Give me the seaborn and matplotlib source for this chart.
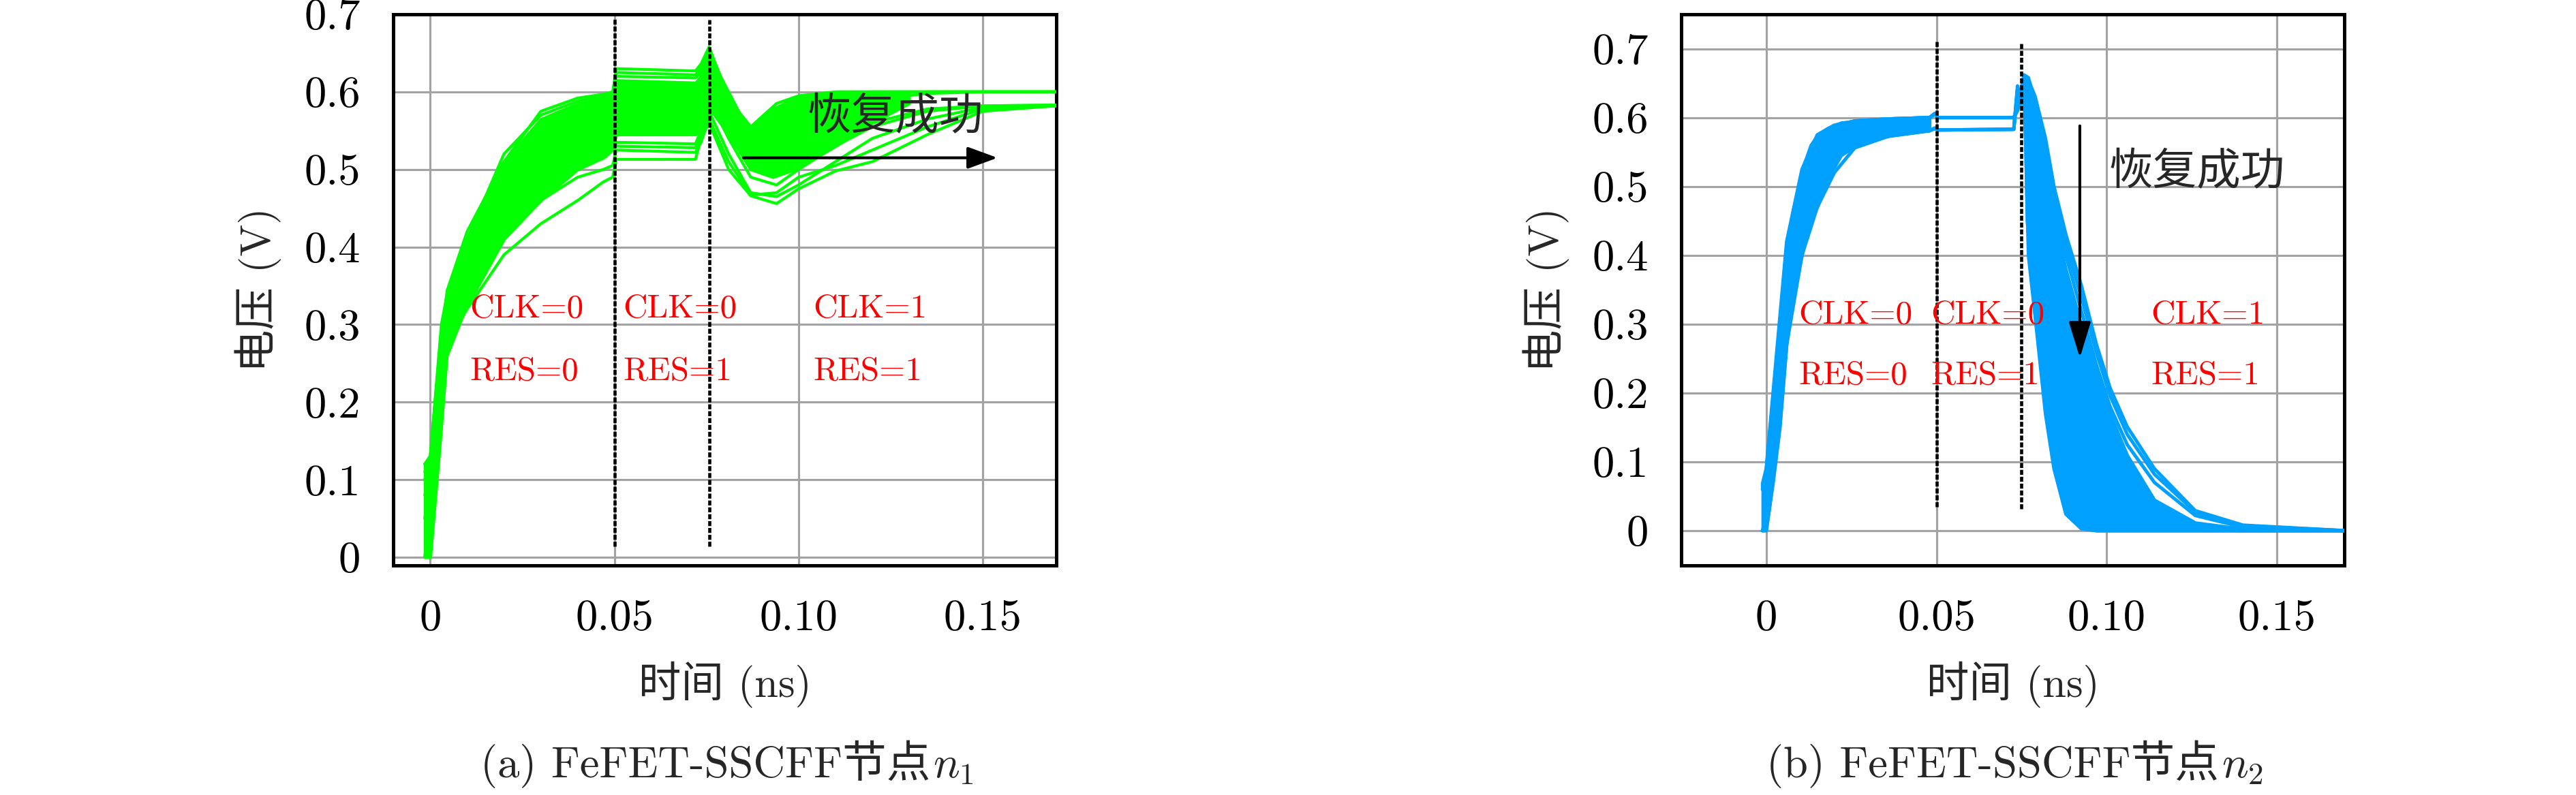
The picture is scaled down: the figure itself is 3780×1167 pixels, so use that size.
import numpy as np
import pandas as pd
import seaborn as sns
import matplotlib.pyplot as plt
from matplotlib.ticker import MultipleLocator

# ---------------- panel (a): node n1 ----------------
# dense core of the Monte-Carlo band (time in ns, voltage in V)
n1_band_t = [-0.0015, -0.0003, 0.0, 0.0025, 0.0045, 0.0095, 0.02, 0.03, 0.04, 0.047, 0.0495,
             0.0505, 0.072, 0.0735, 0.0756, 0.081, 0.087, 0.093, 0.099, 0.11, 0.12, 0.13]
n1_band_hi = [0.12, 0.13, 0.13, 0.27, 0.345, 0.40, 0.51, 0.565, 0.585, 0.593, 0.597,
              0.615, 0.612, 0.62, 0.652, 0.59, 0.555, 0.578, 0.592, 0.60, 0.60, 0.60]
n1_band_lo = [0.0, 0.0, 0.0, 0.14, 0.26, 0.32, 0.41, 0.46, 0.50, 0.515, 0.525,
              0.545, 0.545, 0.552, 0.58, 0.545, 0.50, 0.49, 0.50, 0.53, 0.56, 0.585]

# single runs that stick out of the band
n1_t = [-0.0015, 0.0, 0.003, 0.005, 0.01, 0.02, 0.03, 0.04, 0.047, 0.0495, 0.0505, 0.072,
        0.0735, 0.0757, 0.081, 0.087, 0.094, 0.1, 0.11, 0.12, 0.135, 0.15, 0.17]
n1_r1 = [0.12, 0.13, 0.30, 0.35, 0.42, 0.51, 0.575, 0.592, 0.597, 0.60, 0.63, 0.627,
         0.636, 0.658, 0.59, 0.555, 0.585, 0.595, 0.60, 0.60, 0.60, 0.60, 0.60]
n1_r2 = [0.0, 0.06, 0.20, 0.28, 0.32, 0.39, 0.43, 0.46, 0.484, 0.49, 0.513, 0.513,
         0.54, 0.56, 0.50, 0.466, 0.456, 0.475, 0.498, 0.51, 0.545, 0.575, 0.582]
n1_r3 = [0.10, 0.12, 0.27, 0.33, 0.37, 0.44, 0.49, 0.53, 0.55, 0.555, 0.53, 0.528,
         0.545, 0.575, 0.52, 0.47, 0.465, 0.48, 0.51, 0.54, 0.565, 0.58, 0.582]
n1_r4 = [0.11, 0.125, 0.28, 0.34, 0.40, 0.50, 0.55, 0.575, 0.585, 0.59, 0.62, 0.618,
         0.625, 0.648, 0.60, 0.545, 0.56, 0.585, 0.598, 0.60, 0.60, 0.60, 0.60]
n1_r5 = [0.05, 0.10, 0.25, 0.30, 0.35, 0.43, 0.47, 0.50, 0.52, 0.525, 0.535, 0.533,
         0.55, 0.59, 0.54, 0.49, 0.48, 0.50, 0.53, 0.555, 0.575, 0.582, 0.583]
n1_r6 = [0.12, 0.13, 0.29, 0.345, 0.41, 0.52, 0.57, 0.588, 0.595, 0.598, 0.61, 0.608,
         0.62, 0.652, 0.58, 0.53, 0.54, 0.57, 0.59, 0.598, 0.60, 0.60, 0.60]
n1_r7 = [0.08, 0.11, 0.26, 0.32, 0.38, 0.47, 0.52, 0.55, 0.565, 0.57, 0.545, 0.545,
         0.56, 0.60, 0.55, 0.50, 0.495, 0.51, 0.54, 0.56, 0.578, 0.582, 0.583]
n1_r8 = [0.10, 0.12, 0.28, 0.33, 0.39, 0.49, 0.54, 0.565, 0.58, 0.585, 0.60, 0.598,
         0.61, 0.64, 0.57, 0.51, 0.50, 0.53, 0.57, 0.59, 0.598, 0.60, 0.60]
n1_r9 = [0.0, 0.05, 0.21, 0.29, 0.34, 0.42, 0.46, 0.49, 0.50, 0.505, 0.525, 0.522,
         0.535, 0.565, 0.51, 0.467, 0.47, 0.49, 0.505, 0.525, 0.555, 0.578, 0.582]
n1_r10 = [0.12, 0.13, 0.29, 0.34, 0.40, 0.51, 0.56, 0.58, 0.59, 0.594, 0.625, 0.622,
          0.63, 0.656, 0.595, 0.55, 0.57, 0.59, 0.60, 0.60, 0.60, 0.60, 0.60]
n1_runs = [n1_r1, n1_r2, n1_r3, n1_r4, n1_r5, n1_r6, n1_r7, n1_r8, n1_r9, n1_r10]

# ---------------- panel (b): node n2 ----------------
n2_rise_t = [-0.0011, 0.0, 0.002, 0.004, 0.006, 0.008, 0.0105, 0.013, 0.015, 0.018,
             0.022, 0.026, 0.03, 0.036, 0.042, 0.048]
n2_rise_hi = [0.068, 0.09, 0.20, 0.31, 0.42, 0.47, 0.525, 0.56, 0.575, 0.585,
              0.593, 0.595, 0.597, 0.598, 0.599, 0.60]
n2_rise_lo = [0.0, 0.0, 0.07, 0.15, 0.27, 0.34, 0.40, 0.45, 0.47, 0.51,
              0.545, 0.558, 0.567, 0.573, 0.577, 0.581]
n2_fall_t = [0.0757, 0.0765, 0.079, 0.082, 0.0845, 0.088, 0.0925, 0.097, 0.101, 0.106,
             0.114, 0.126, 0.14, 0.17]
n2_fall_hi = [0.662, 0.650, 0.600, 0.530, 0.460, 0.380, 0.300, 0.230, 0.170, 0.110,
              0.045, 0.012, 0.003, 0.0]
n2_fall_lo = [0.650, 0.450, 0.310, 0.170, 0.090, 0.024, 0.003, 0.0, 0.0, 0.0,
              0.0, 0.0, 0.0, 0.0]

n2_t = [-0.0011, 0.0, 0.002, 0.004, 0.006, 0.0105, 0.015, 0.02, 0.026, 0.036, 0.048,
        0.0495, 0.0505, 0.0727, 0.0738, 0.075, 0.0757, 0.077, 0.079, 0.082, 0.0845,
        0.088, 0.0925, 0.097, 0.101, 0.106, 0.114, 0.126, 0.14, 0.17]
n2_r1 = [0.068, 0.09, 0.20, 0.31, 0.42, 0.525, 0.575, 0.589, 0.595, 0.598, 0.600,
         0.606, 0.600, 0.600, 0.610, 0.640, 0.660, 0.400, 0.310, 0.170, 0.090,
         0.024, 0.003, 0.0, 0.0, 0.0, 0.0, 0.0, 0.0, 0.0]
n2_r2 = [0.0, 0.0, 0.07, 0.15, 0.27, 0.40, 0.47, 0.52, 0.556, 0.573, 0.581,
         0.585, 0.582, 0.583, 0.646, 0.620, 0.655, 0.655, 0.630, 0.570, 0.500,
         0.430, 0.357, 0.270, 0.207, 0.151, 0.090, 0.029, 0.008, 0.0]
n2_r3 = [0.06, 0.085, 0.18, 0.29, 0.40, 0.51, 0.565, 0.585, 0.594, 0.598, 0.600,
         0.605, 0.600, 0.600, 0.612, 0.645, 0.662, 0.658, 0.620, 0.560, 0.490,
         0.415, 0.340, 0.258, 0.196, 0.140, 0.082, 0.027, 0.007, 0.0]
n2_r4 = [0.0, 0.02, 0.10, 0.20, 0.32, 0.44, 0.50, 0.545, 0.566, 0.576, 0.581,
         0.584, 0.582, 0.583, 0.640, 0.625, 0.652, 0.650, 0.610, 0.545, 0.475,
         0.400, 0.320, 0.240, 0.180, 0.125, 0.070, 0.022, 0.005, 0.0]
n2_r5 = [0.065, 0.088, 0.19, 0.30, 0.41, 0.52, 0.57, 0.587, 0.595, 0.598, 0.600,
         0.606, 0.600, 0.600, 0.611, 0.642, 0.660, 0.600, 0.520, 0.420, 0.340,
         0.250, 0.160, 0.095, 0.058, 0.030, 0.010, 0.002, 0.0, 0.0]
n2_r6 = [0.0, 0.01, 0.09, 0.18, 0.30, 0.42, 0.49, 0.54, 0.563, 0.575, 0.581,
         0.584, 0.582, 0.583, 0.643, 0.622, 0.650, 0.450, 0.330, 0.190, 0.100,
         0.030, 0.004, 0.0, 0.0, 0.0, 0.0, 0.0, 0.0, 0.0]
n2_r7 = [0.06, 0.085, 0.19, 0.30, 0.41, 0.52, 0.57, 0.587, 0.595, 0.598, 0.600,
         0.605, 0.600, 0.600, 0.611, 0.643, 0.661, 0.640, 0.580, 0.500, 0.420,
         0.340, 0.260, 0.180, 0.120, 0.070, 0.030, 0.008, 0.001, 0.0]
n2_runs = [n2_r1, n2_r2, n2_r3, n2_r4, n2_r5, n2_r6, n2_r7]

xticks = [0, 0.05, 0.10, 0.15]
xtick_labels = ["0", "0.05", "0.10", "0.15"]
yticks = [0, 0.1, 0.2, 0.3, 0.4, 0.5, 0.6, 0.7]
ytick_labels = ["0", "0.1", "0.2", "0.3", "0.4", "0.5", "0.6", "0.7"]
markers_n1 = [0.05, 0.0757]
markers_n2 = [0.05, 0.075]
state_labels = [("CLK=0", "RES=0"), ("CLK=0", "RES=1"), ("CLK=1", "RES=1")]

GREEN = "#00ff00"
BLUE = "#00a0ff"

sns.set_style("white")
plt.rcParams["font.family"] = ["cmr10", "Noto Sans CJK SC"]
plt.rcParams["mathtext.fontset"] = "cm"
plt.rcParams["axes.formatter.use_mathtext"] = True
plt.rcParams["axes.unicode_minus"] = False


def runs_frame(t, runs):
    parts = [pd.DataFrame({"t": t, "v": v, "run": i}) for i, v in enumerate(runs)]
    return pd.concat(parts, ignore_index=True)


def style_axes(ax, xlim, ylim):
    ax.set_xlim(*xlim)
    ax.set_ylim(*ylim)
    ax.set_xticks(xticks)
    ax.set_xticklabels(xtick_labels)
    ax.set_yticks(yticks)
    ax.set_yticklabels(ytick_labels)
    ax.xaxis.set_minor_locator(MultipleLocator(0.025))
    ax.yaxis.set_minor_locator(MultipleLocator(0.05))
    ax.grid(True, which="major", color="#a3a3a3", lw=0.75, zorder=0)
    ax.set_axisbelow(True)
    for s in ax.spines.values():
        s.set_color("black")
        s.set_linewidth(1.2)
    ax.tick_params(which="both", direction="in", top=False, right=False,
                   width=1.1, colors="black", labelsize=15.5)
    ax.tick_params(which="major", length=6)
    ax.tick_params(which="minor", length=3.2)
    ax.tick_params(axis="x", pad=12)
    ax.tick_params(axis="y", pad=11.5)
    ax.set_xlabel("时间 (ns)", fontsize=15, va="center")
    ax.set_ylabel("电压 (V)", fontsize=15, va="center")
    ax.xaxis.set_label_coords(0.5, -0.216)
    ax.yaxis.set_label_coords(-0.204, 0.5)


def caption(fig, xc, y, prefix, sub):
    # CJK text and mathtext can't share one string, so put them side by side
    t1 = fig.text(0, y, prefix, fontsize=15.5, ha="left", va="baseline")
    t2 = fig.text(0, y, sub, fontsize=15.5, ha="left", va="baseline")
    fig.canvas.draw()
    r = fig.canvas.get_renderer()
    w1 = t1.get_window_extent(r).width / fig.bbox.width
    w2 = t2.get_window_extent(r).width / fig.bbox.width
    x0 = xc - (w1 + w2) / 2
    t1.set_x(x0)
    t2.set_x(x0 + w1 + 0.001)


fig = plt.figure(figsize=(12.6, 3.89), dpi=300)
ax1 = fig.add_axes([0.1526, 0.2888, 0.2575, 0.6932])
ax2 = fig.add_axes([0.6526, 0.2888, 0.2575, 0.6932])

# panel (a)
ax1.fill_between(n1_band_t, n1_band_lo, n1_band_hi, color=GREEN, lw=1.0, zorder=2)
sns.lineplot(data=runs_frame(n1_t, n1_runs), x="t", y="v", units="run",
             estimator=None, sort=False, color=GREEN, lw=1.0, ax=ax1,
             legend=False, zorder=3)
style_axes(ax1, (-0.0101, 0.170), (-0.0105, 0.70))
ax1.vlines(markers_n1[0], 0.0142, 0.696, colors="black", lw=1.1,
           linestyles=(0, (1.6, 0.6)), zorder=4)
ax1.vlines(markers_n1[1], 0.0142, 0.693, colors="black", lw=1.1,
           linestyles=(0, (1.6, 0.6)), zorder=4)
for x0, (clk, res) in zip([0.0107, 0.0524, 0.104], state_labels):
    ax1.text(x0, 0.320, clk, color="red", fontsize=11.8, ha="left", va="center", zorder=5)
    ax1.text(x0, 0.2395, res, color="red", fontsize=11.8, ha="left", va="center", zorder=5)
ax1.annotate("", xy=(0.154, 0.515), xytext=(0.085, 0.515), zorder=6,
             arrowprops=dict(arrowstyle="-|>,head_length=0.6,head_width=0.22",
                             mutation_scale=15, lw=1.0, color="black",
                             shrinkA=0, shrinkB=0))
ax1.text(0.1023, 0.567, "恢复成功", fontsize=15.5, ha="left", va="center", zorder=6)

# panel (b)
ax2.fill_between(n2_rise_t, n2_rise_lo, n2_rise_hi, color=BLUE, lw=1.0, zorder=2)
ax2.fill_between(n2_fall_t, n2_fall_lo, n2_fall_hi, color=BLUE, lw=1.0, zorder=2)
sns.lineplot(data=runs_frame(n2_t, n2_runs), x="t", y="v", units="run",
             estimator=None, sort=False, color=BLUE, lw=1.2, ax=ax2,
             legend=False, zorder=3)
style_axes(ax2, (-0.025, 0.1698), (-0.0505, 0.75))
ax2.vlines(markers_n2[0], 0.035, 0.711, colors="black", lw=1.1,
           linestyles=(0, (1.6, 0.6)), zorder=4)
ax2.vlines(markers_n2[1], 0.032, 0.708, colors="black", lw=1.1,
           linestyles=(0, (1.6, 0.6)), zorder=4)
for x0, (clk, res) in zip([0.0096, 0.0483, 0.113], state_labels):
    ax2.text(x0, 0.3135, clk, color="red", fontsize=11.8, ha="left", va="center", zorder=5)
    ax2.text(x0, 0.2245, res, color="red", fontsize=11.8, ha="left", va="center", zorder=5)
ax2.annotate("", xy=(0.0921, 0.251), xytext=(0.0921, 0.588), zorder=6,
             arrowprops=dict(arrowstyle="-|>,head_length=0.72,head_width=0.22",
                             mutation_scale=15, lw=1.0, color="black",
                             shrinkA=0, shrinkB=0))
ax2.text(0.1007, 0.52, "恢复成功", fontsize=15.5, ha="left", va="center", zorder=6)

caption(fig, 0.2817, 0.022, "(a) FeFET-SSCFF节点", "$n_1$")
caption(fig, 0.7817, 0.022, "(b) FeFET-SSCFF节点", "$n_2$")

fig.savefig("out.png", dpi=300, facecolor="white")
